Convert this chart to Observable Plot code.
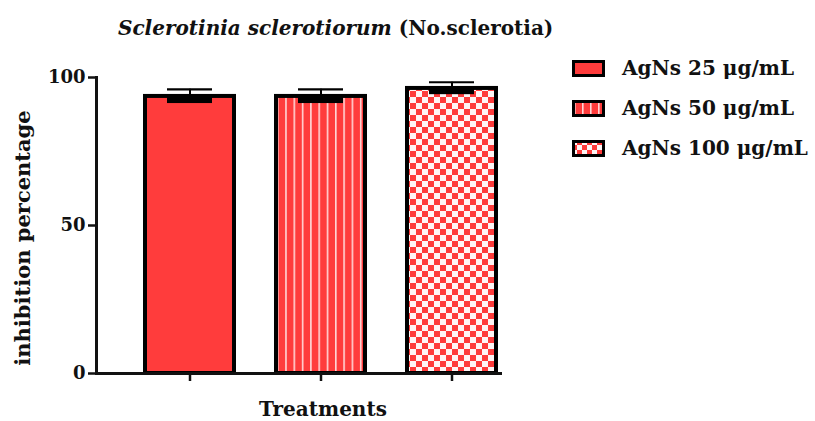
<!DOCTYPE html>
<html>
<head>
<meta charset="utf-8">
<script src="https://cdn.jsdelivr.net/npm/d3@7"></script>
<script src="https://cdn.jsdelivr.net/npm/@observablehq/plot@0.6"></script>
<style>
  html, body { margin: 0; padding: 0; background: #fff; }
  #wrap { position: relative; width: 815px; height: 421px; font-family: "DejaVu Serif", "Liberation Serif", serif; color: #111; }
  .txt { position: absolute; white-space: nowrap; font-weight: bold; line-height: 1; }
  #title { left: 118px; top: 18px; font-size: 20px; }
  #xlab { left: 323px; top: 399px; font-size: 20px; transform: translateX(-50%); }
  #ylab { left: 22px; top: 238px; font-size: 21px; transform: translate(-50%, -50%) rotate(-90deg); }
  #legend { position: absolute; left: 572px; top: 48px; white-space: nowrap; }
  .lrow { display: flex; align-items: center; height: 40px; white-space: nowrap; }
  .lrow svg { margin-right: 17px; flex: none; }
  .lrow span { font-size: 20px; font-weight: bold; white-space: nowrap; }
</style>
</head>
<body>
<div id="wrap">
  <div id="title" class="txt"><i>Sclerotinia sclerotiorum</i> (No.sclerotia)</div>
  <div id="ylab" class="txt">inhibition percentage</div>
  <div id="xlab" class="txt">Treatments</div>
  <div id="legend"></div>
</div>
<script>
const treatments = ["AgNs 25 μg/mL", "AgNs 50 μg/mL", "AgNs 100 μg/mL"];
const means = [93.6, 93.6, 96.3];
const errors = [2.4, 2.4, 2.1];
const yTicks = [0, 50, 100];

const patternIds = ["pSolid", "pStripe", "pCheck"];
const RED = "#ff3c3c";

const data = treatments.map((t, i) => ({t, mean: means[i], err: errors[i], pat: `url(#${patternIds[i]})`}));

const defsMarkup = `
<defs>
  <pattern id="pSolid" patternUnits="userSpaceOnUse" width="10" height="10">
    <rect width="10" height="10" fill="${RED}"/>
  </pattern>
  <pattern id="pStripe" patternUnits="userSpaceOnUse" width="8.3" height="10" x="3">
    <rect width="8.3" height="10" fill="${RED}"/>
    <rect x="0" width="1.6" height="10" fill="#ffd6d6"/>
  </pattern>
  <pattern id="pCheck" patternUnits="userSpaceOnUse" width="12" height="12" x="2" y="1">
    <rect width="12" height="12" fill="${RED}"/>
    <rect x="0" y="0" width="6" height="6" fill="#fff6f6"/>
    <rect x="6" y="6" width="6" height="6" fill="#fff6f6"/>
  </pattern>
  <pattern id="lStripe" patternUnits="userSpaceOnUse" width="8" height="10" x="2">
    <rect width="8" height="10" fill="${RED}"/>
    <rect x="0" width="1.6" height="10" fill="#ffd6d6"/>
  </pattern>
  <pattern id="lCheck" patternUnits="userSpaceOnUse" width="10" height="10">
    <rect width="10" height="10" fill="${RED}"/>
    <rect x="0" y="0" width="5" height="5" fill="#fff6f6"/>
    <rect x="5" y="5" width="5" height="5" fill="#fff6f6"/>
  </pattern>
</defs>`;

const inset = 22;
const plot = Plot.plot({
  width: 815,
  height: 421,
  marginLeft: 96,
  marginRight: 315,
  marginTop: 77,
  marginBottom: 48,
  style: {fontFamily: "'DejaVu Serif', 'Liberation Serif', serif", background: "transparent", color: "#111"},
  x: {domain: treatments, range: [144, 497], paddingInner: 0.32, paddingOuter: 0, align: 0.5, axis: null},
  y: {domain: [0, 100], axis: null},
  color: {type: "identity"},
  marks: [
    Plot.barY(data, {x: "t", y: "mean", fill: "pat", stroke: "#000", strokeWidth: 4, insetLeft: 0, insetRight: 0}),
    Plot.barY(data, {x: "t", y1: d => d.mean - d.err, y2: "mean", fill: "#000", insetLeft: inset, insetRight: inset}),
    Plot.ruleX(data, {x: "t", y1: "mean", y2: d => d.mean + d.err, stroke: "#000", strokeWidth: 2}),
    Plot.tickY(data, {x: "t", y: d => d.mean + d.err, stroke: "#000", strokeWidth: 2.2, insetLeft: inset, insetRight: inset}),
    Plot.axisY({ticks: yTicks, tickSize: 8, tickPadding: 3, tickFormat: d => String(d), fontSize: 18, fontWeight: "bold", strokeWidth: 2.5, label: null}),
    Plot.axisX({tickSize: 8, tickFormat: () => "", strokeWidth: 2.5, label: null}),
    Plot.frame({anchor: "left", strokeWidth: 3}),
    Plot.frame({anchor: "bottom", strokeWidth: 3})
  ]
});
plot.style.position = "absolute";
plot.style.left = "0px";
plot.style.top = "0px";
plot.insertAdjacentHTML("afterbegin", defsMarkup);
document.getElementById("wrap").prepend(plot);

const legendFills = [RED, "url(#lStripe)", "url(#lCheck)"];
const legend = document.getElementById("legend");
treatments.forEach((t, i) => {
  const row = document.createElement("div");
  row.className = "lrow";
  row.innerHTML = `<svg width="33" height="17"><rect x="1.5" y="1.5" width="30" height="14" fill="${legendFills[i]}" stroke="#000" stroke-width="3"/></svg><span>${t}</span>`;
  legend.appendChild(row);
});
</script>
</body>
</html>
